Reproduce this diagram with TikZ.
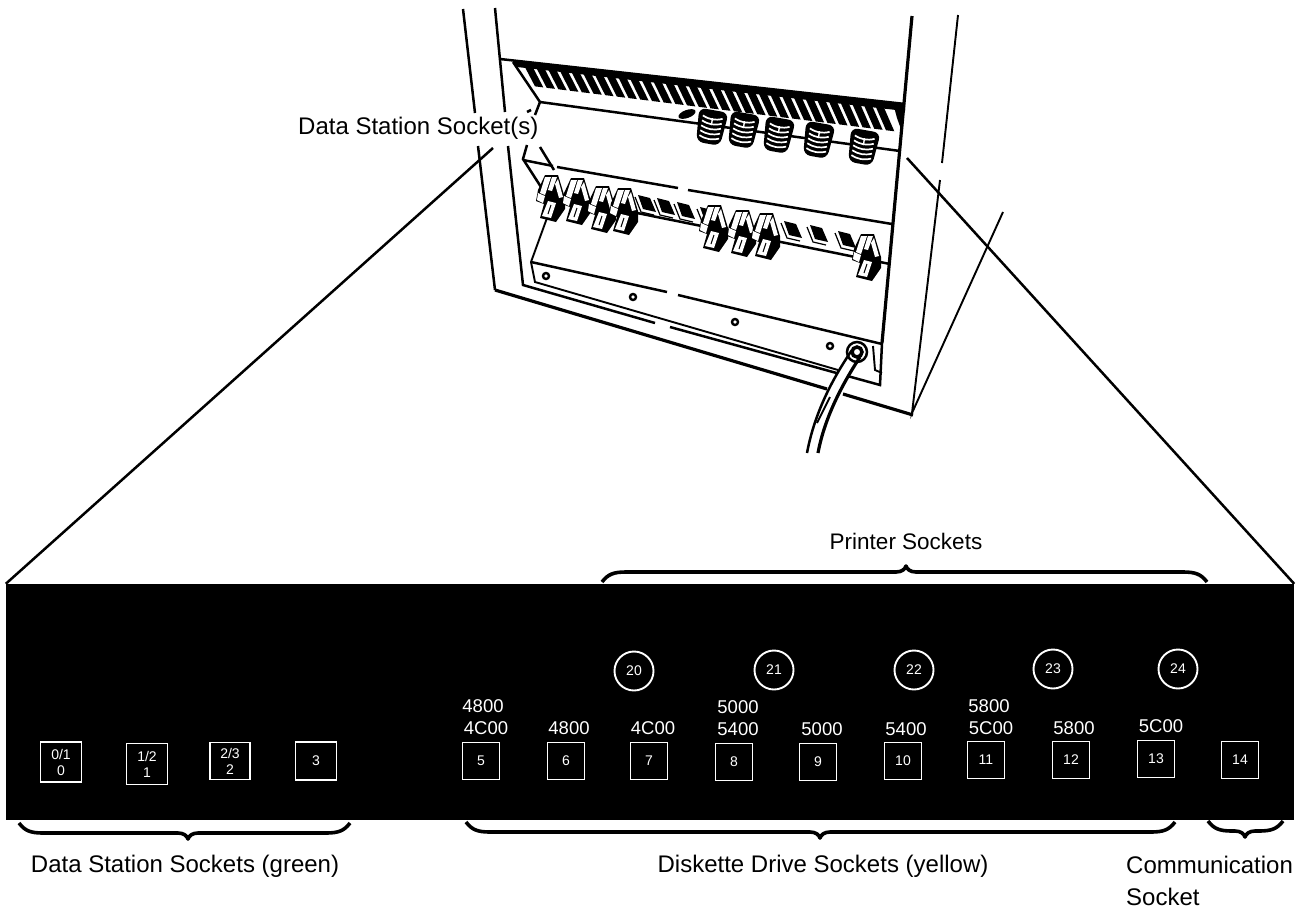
\documentclass[tikz,border=0pt]{standalone}
\usepackage{fontspec}
\setmainfont{Liberation Sans}
\tikzset{
  heavy/.style={line width=3.2pt},
  medium/.style={line width=2.5pt},
  thin line/.style={line width=1.9pt},
  caption/.style={inner sep=0pt, font=\fontsize{24}{32}\selectfont},
  hexcode/.style={inner sep=0pt, text=white, font=\fontsize{18.5}{21}\selectfont},
  bay/.style={draw=white, line width=1.9pt, text=white, inner sep=0pt, align=center,
    minimum width=37pt, minimum height=37pt, font=\fontsize{14}{16}\selectfont},
  port/.style={draw=white, circle, line width=1.9pt, text=white, inner sep=0pt,
    minimum size=39pt, font=\fontsize{14}{16}\selectfont},
  gland/.pic={
    \fill[rounded corners=7pt] (-15,-17) -- (15,-17) -- (12,17) -- (-12,17) -- cycle;
    \foreach \s in {-10,-5,0,5,10}
      \draw[white, line width=1.7pt] (-10,\s) .. controls (-3,\s+3) and (3,\s+3) .. (10,\s);
    \draw[white, line width=1.4pt] (0,-9) -- (0,-2);
  },
  plug/.pic={
    \fill (8,0) -- (21,0) -- (28,23) -- (28,34) -- (19,47) -- (3,43) -- (7,29) -- (-1,26) -- (1,15) -- cycle;
    \fill[white] (8,2) -- (14,2) -- (8,20) -- (3,18) -- cycle;
    \fill[white] (1,18) -- (8,21) -- (6,28) -- (0,25) -- cycle;
    \fill[white] (15,2) -- (20,2) -- (15,16) -- (11,15) -- cycle;
    \fill[white] (21,4) -- (26,22) -- (22,23) -- (18,9) -- cycle;
    \fill[white] (11,26) -- (19,28) -- (14,43) -- (5,41) -- cycle;
    \draw[black, line width=1pt] (14,30) -- (11,39);
  },
  jack/.pic={
    \fill (3,0) -- (15,3) -- (21,17) -- (8,14) -- cycle;
    \draw[line width=1.2pt] (0,2) -- (6,17) -- (19,20);
  },
}
\newcommand{\gangbrace}[5]{%
  \draw[line width=3.6pt, line join=round]
    (#1,#4) .. controls ({#1+6},{#4+#5*8}) and ({#1+12},{#4+#5*10}) .. ({#1+24},{#4+#5*10})
    -- ({#2-10},{#4+#5*10}) .. controls ({#2-4},{#4+#5*10}) and ({#2-1},{#4+#5*13}) .. (#2,{#4+#5*16})
    .. controls ({#2+1},{#4+#5*13}) and ({#2+4},{#4+#5*10}) .. ({#2+10},{#4+#5*10})
    -- ({#3-24},{#4+#5*10}) .. controls ({#3-12},{#4+#5*10}) and ({#3-6},{#4+#5*8}) .. (#3,#4);
}
\begin{document}
\begin{tikzpicture}[x=1pt, y=-1pt]
  \useasboundingbox (0,0) rectangle (1312,908);

  % Cabinet edges
  \draw[medium] (463,9) -- (475,113);
  \draw[medium] (478,146) -- (495,290);
  \draw[heavy] (495,290) -- (827,389);
  \draw[heavy] (843,394) -- (913,415);
  \draw[medium] (495,8) -- (505,112);
  \draw[medium] (508,146) -- (523,285) -- (655,323);
  \draw[medium] (670,327) -- (880,385) -- (882,343);
  \draw[heavy] (912,16) -- (882,343);
  \draw[thin line] (958,15) -- (942,163);
  \draw[thin line] (940,180) -- (912,413) -- (1003,212);

  % Vent
  \draw[medium] (500,59) -- (905,104);
  \fill (512,60) -- (905,104) -- (905,111) -- (517,67) -- cycle;
  \foreach \i in {0,...,30} {
    \pgfmathsetmacro{\xa}{522+\i*11.7}
    \pgfmathsetmacro{\ya}{59+(\xa-500)*0.1111}
    \pgfmathsetmacro{\yb}{87+(\xa+13-540)*0.125}
    \fill (\xa,\ya) -- (\xa+8.3,\ya+1) -- (\xa+21.3,\yb+1) -- (\xa+13,\yb) -- cycle;
  }
  \fill (893,103) -- (905,104) -- (902,132) -- (897,118) -- cycle;

  % Shelf
  \draw[medium] (513,62) -- (540,102) -- (535,115);
  \draw[medium] (540,102) -- (900,151);
  \draw[medium] (527,145) -- (523,159) -- (541,187);
  \draw[medium] (523,160) -- (553,166);
  \draw[medium] (557,167) -- (678,188);
  \draw[medium] (688,190) -- (892,224);
  \draw[medium] (540,147) -- (554,170);
  \draw[medium] (527,112) -- (531,110);
  \draw[medium] (637,213) -- (890,264);
  \draw[thin line] (547,218) -- (531,262) -- (535,282) -- (838,370);

  % Cover plate
  \draw[medium] (531,262) -- (667,292);
  \draw[medium] (678,295) -- (882,344);
  \foreach \x/\y in {546/276, 633/297, 735/322, 830/346}
    \draw[line width=2.4pt] (\x,\y) circle (3pt);
  \draw[thin line] (873,346) -- (875,370) -- (882,373);

  % Glands
  \fill[rotate around={20:(687,114)}] (687,114) ellipse (9pt and 4pt);
  \foreach \x/\y in {711/127, 743/130, 778/135, 818/140, 863/147}
    \pic[rotate=-10] at (\x,\y) {gland};

  % Sockets on the shelf
  \foreach \x/\y in {635/195, 654/198, 674/202, 697/207, 781/221, 807/225, 835/231}
    \pic at (\x,\y) {jack};
  \foreach \x/\y in {537/175, 563/178, 588/186, 610/188, 700/205, 728/210, 752/213, 853/234}
    \pic at (\x,\y) {plug};

  % Cable
  \fill[white] (852,348) .. controls (835,375) and (815,410) .. (807,453)
    -- (818,453) .. controls (825,415) and (845,380) .. (860,355) -- cycle;
  \draw[medium] (857,352) circle (10pt);
  \draw[line width=3.5pt] (857,352) circle (5pt);
  \draw[medium] (852,350) .. controls (835,375) and (815,410) .. (807,453);
  \draw[heavy] (860,357) .. controls (845,380) and (825,415) .. (818,453);
  \draw[thin line] (830,397) -- (817,423);

  % Panel
  \node[fill=black, inner sep=0pt, minimum width=1288pt, minimum height=236pt] (panel) at (650,702) {};

  % Zoom lines
  \coordinate (zoomleft) at (493,148);
  \coordinate (zoomright) at (907,158);
  \draw[medium] (panel.north west) -- (zoomleft);
  \draw[medium] (panel.north east) -- (zoomright);

  % Ports
  \foreach \x/\y/\n in {634/671/20, 774/670/21, 914/670/22, 1053/669/23, 1178/669/24}
    \node[port] (port\n) at (\x,\y) {\n};

  % Bays
  \node[bay, minimum width=41pt, minimum height=40pt] (bay0) at (61,762) {0/1\\0};
  \node[bay, minimum width=41pt, minimum height=41pt] (bay1) at (147,764) {1/2\\1};
  \node[bay, minimum width=40pt] (bay2) at (230,761) {2/3\\2};
  \node[bay, minimum width=41pt, minimum height=38pt] (bay3) at (316,761) {3};
  \foreach \x/\y/\n in {481/761/5, 566/761/6, 649/761/7, 734/762/8, 818/762/9,
      903/761/10, 986/760/11, 1071/760/12, 1156/759/13, 1240/760/14}
    \node[bay] (bay\n) at (\x,\y) {\n};

  % Addresses
  \node[hexcode] (hexa) at (483,706) {4800};
  \node[hexcode] (hexb) at (486,728) {4C00};
  \node[hexcode] (hexc) at (569,728) {4800};
  \node[hexcode] (hexd) at (653,728) {4C00};
  \node[hexcode] (hexe) at (738,707) {5000};
  \node[hexcode] (hexf) at (738,729) {5400};
  \node[hexcode] (hexg) at (822,729) {5000};
  \node[hexcode] (hexh) at (906,729) {5400};
  \node[hexcode] (hexi) at (989,706) {5800};
  \node[hexcode] (hexj) at (991,728) {5C00};
  \node[hexcode] (hexk) at (1074,728) {5800};
  \node[hexcode] (hexl) at (1161,726) {5C00};

  % Braces
  \gangbrace{602}{906}{1207}{582}{-1}
  \gangbrace{19}{188}{350}{823}{1}
  \gangbrace{466}{820}{1175}{822}{1}
  \gangbrace{1208}{1245}{1283}{821}{1}

  % Captions
  \node[caption, anchor=west] (stationtop) at (298,128) {Data Station Socket(s)};
  \node[caption, font=\fontsize{22.5}{32}\selectfont] (printer) at (906,541) {Printer Sockets};
  \node[caption] (stations) at (185,866) {Data Station Sockets (green)};
  \node[caption] (diskette) at (823,866) {Diskette Drive Sockets (yellow)};
  \node[caption, anchor=north west, align=left] (comm) at (1126,856) {Communication\\Socket};
\end{tikzpicture}
\end{document}
